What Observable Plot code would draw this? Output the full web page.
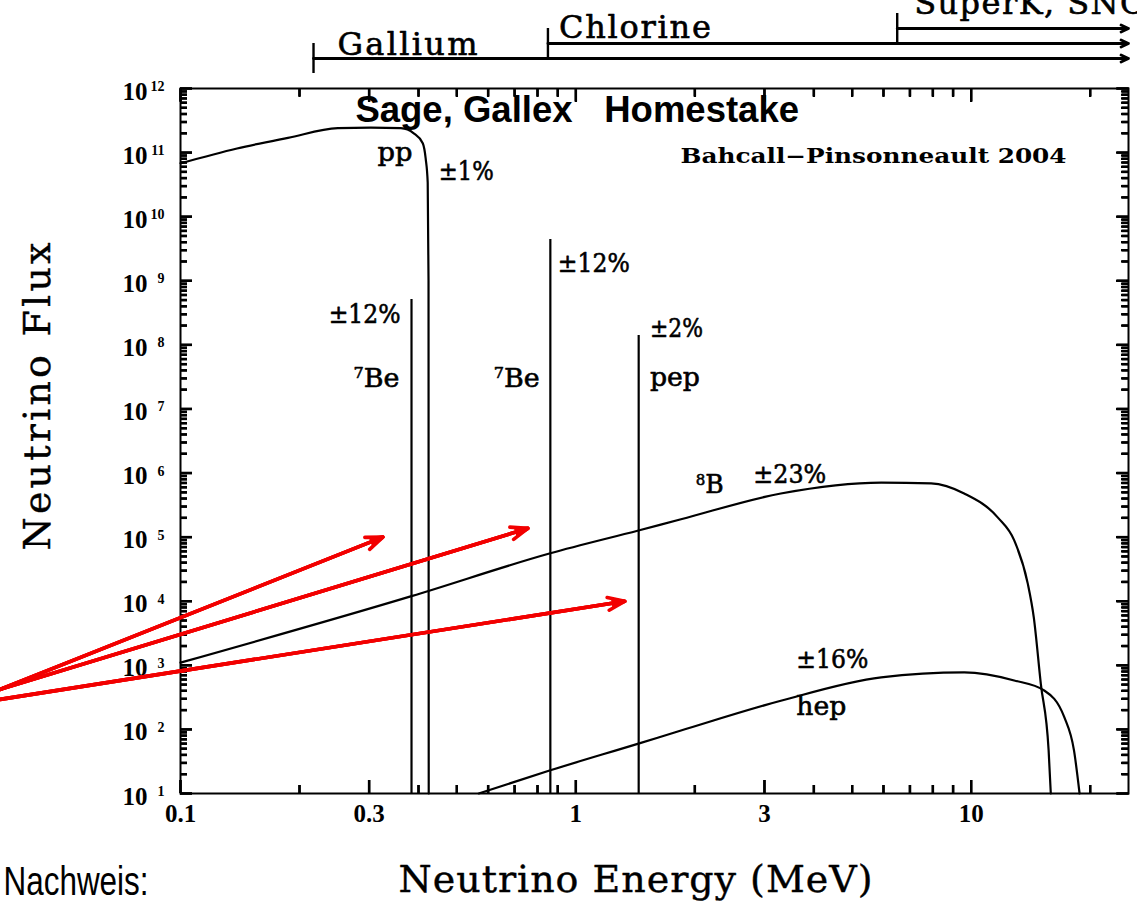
<!DOCTYPE html>
<html>
<head>
<meta charset="utf-8">
<script src="https://cdn.jsdelivr.net/npm/d3@7"></script>
<script src="https://cdn.jsdelivr.net/npm/@observablehq/plot@0.6"></script>
<style>
  html, body { margin: 0; padding: 0; background: #fff; overflow: hidden; }
  #chart svg { display: block; }
</style>
</head>
<body>
<div id="chart"></div>
<script>
// ---------- data ----------
const ppEnergy = [0.1, 0.139, 0.187, 0.25, 0.303, 0.361, 0.389, 0.41, 0.417, 0.422, 0.424, 0.4245];
const ppFlux   = [6.8e10, 1.16e11, 1.7e11, 2.4e11, 2.45e11, 2.4e11, 2.0e11, 1.4e11, 8.1e10, 3.4e10, 1e9, 10];

const b8Energy = [0.1, 0.384, 0.862, 1.44, 1.845, 3.3, 5.92, 7.92, 9.6, 11.7, 12.85, 13.9, 14.4, 15.0, 15.7, 15.9];
const b8Flux   = [1.1e3, 1.2e4, 5.6e4, 1.27e5, 1.9e5, 4.8e5, 7.1e5, 6.9e5, 4.8e5, 2.0e5, 8.9e4, 1.9e4, 5.6e3, 520, 47, 10];

const hepEnergy = [0.568, 0.862, 1.44, 1.845, 3.3, 5.92, 9.6, 12.85, 15.3, 17.2, 18.2, 18.8];
const hepFlux   = [10, 23, 60, 96, 280, 650, 775, 580, 405, 155, 47, 10];

// mono-energetic lines: 7Be (0.384), 7Be (0.862), pep (1.442)
const lineEnergy = [0.384, 0.862, 1.442];
const lineFlux   = [5.1e8, 4.4e9, 1.4e8];

// detector thresholds
const detectorName      = ["Gallium", "Chlorine", "SuperK, SNO"];
const detectorThreshold = [0.217, 0.85, 6.5];

// annotations (energy, flux of text start / baseline)
const noteText   = ["pp", "±1%", "±12%", "^7Be", "^7Be", "±12%", "±2%", "pep", "^8B", "±23%", "±16%", "hep"];
const noteEnergy = [0.315, 0.450, 0.237, 0.274, 0.620, 0.900, 1.54, 1.54, 2.01, 2.81, 3.61, 3.61];
const noteFlux   = [7.5e10, 3.7e10, 2.2e8, 2.2e7, 2.2e7, 1.35e9, 1.35e8, 2.3e7, 4.8e5, 7.1e5, 895, 165];

const sourceText   = ["Bahcall−Pinsonneault 2004"];
const sourceEnergy = [1.84];
const sourceFlux   = [6.8e10];

const experimentText   = ["Sage, Gallex", "Homestake"];
const experimentEnergy = [0.277, 1.18];
const experimentFlux   = [2.95e11, 2.95e11];

// red pointer arrows
const arrowStartEnergy = [0.035, 0.035, 0.035];
const arrowStartFlux   = [421, 421, 294];
const arrowEndEnergy   = [0.325, 0.756, 1.33];
const arrowEndFlux     = [1.0e5, 1.37e5, 1.0e4];

// tick values
const xMajor = [0.1, 0.3, 1, 3, 10];
const xMinor = [0.2, 0.4, 0.5, 0.6, 0.7, 0.8, 0.9, 2, 4, 5, 6, 7, 8, 9, 20];
const yMajor = [1e1, 1e2, 1e3, 1e4, 1e5, 1e6, 1e7, 1e8, 1e9, 1e10, 1e11, 1e12];
const yMinor = [];
for (let n = 1; n <= 11; n++) for (let k = 2; k <= 9; k++) yMinor.push(k * 10 ** n);

const xLabel = "Neutrino Energy (MeV)";
const yLabel = "Neutrino Flux";
const footLabel = "Nachweis:";

// ---------- tables ----------
const toTable = (E, F) => E.map((e, i) => ({E: e, F: F[i]}));
const ppTable = toTable(ppEnergy, ppFlux);
const b8Table = toTable(b8Energy, b8Flux);
const hepTable = toTable(hepEnergy, hepFlux);
const lineTable = toTable(lineEnergy, lineFlux);
const noteTable = noteText.map((t, i) => ({t, E: noteEnergy[i], F: noteFlux[i]}));
const sourceTable = sourceText.map((t, i) => ({t, E: sourceEnergy[i], F: sourceFlux[i]}));
const expTable = experimentText.map((t, i) => ({t, E: experimentEnergy[i], F: experimentFlux[i]}));
const arrowTable = arrowStartEnergy.map((e, i) => ({E1: e, F1: arrowStartFlux[i], E2: arrowEndEnergy[i], F2: arrowEndFlux[i]}));
const asRows = vs => vs.map(v => ({E: v}));

// ---------- layout and styles ----------
const serif = "DejaVu Serif";
const tickFont = "Liberation Serif";
const xMin = 0.1, xMax = 25, yMin = 10, yMax = 1e12;
const detectorLayout = [ // offsets above the frame (px)
  {bar: -30, tdx: 24, tdy: -34},
  {bar: -45, tdx: 11, tdy: -51},
  {bar: -60, tdx: 17, tdy: -75}
];
const textFit = {
  "Neutrino Energy (MeV)": [474, "spacing"],
  "Neutrino Flux": [308, "spacing"],
  "Gallium": [140, "spacing"],
  "Chlorine": [152, "spacing"],
  "SuperK, SNO": [232, "spacing"],
  "Nachweis:": [145, "spacingAndGlyphs"],
  "Bahcall−Pinsonneault 2004": [386, "spacingAndGlyphs"],
  "±12%": [72, "spacingAndGlyphs"],
  "±1%": [55, "spacingAndGlyphs"],
  "±2%": [53, "spacingAndGlyphs"],
  "±23%": [73, "spacingAndGlyphs"],
  "±16%": [72, "spacingAndGlyphs"],
  "pp": [35, "spacingAndGlyphs"],
  "pep": [50, "spacingAndGlyphs"],
  "hep": [50, "spacingAndGlyphs"],
  "^7Be": [46, "spacingAndGlyphs"],
  "^8B": [28, "spacingAndGlyphs"]
};
const bold = {fill: "black", stroke: "black", strokeWidth: 0.6};
const tickStroke = {stroke: "black", strokeWidth: 2.4};

// inward ticks, drawn two equivalent ways so that they coincide:
// (a) centred rules widened by negative insets and shifted inward by half their length
const tickRules = (xs, ys, lenX, lenY) => {
  const hx = lenX / 2, hy = lenY / 2;
  return [
    Plot.ruleX(asRows(xs), {x: "E", y1: yMin, y2: yMin, insetTop: -hx, insetBottom: -hx, dy: -hx, ...tickStroke}),
    Plot.ruleX(asRows(xs), {x: "E", y1: yMax, y2: yMax, insetTop: -hx, insetBottom: -hx, dy: hx, ...tickStroke}),
    Plot.ruleY(asRows(ys), {y: "E", x1: xMin, x2: xMin, insetLeft: -hy, insetRight: -hy, dx: hy, ...tickStroke}),
    Plot.ruleY(asRows(ys), {y: "E", x1: xMax, x2: xMax, insetLeft: -hy, insetRight: -hy, dx: -hy, ...tickStroke})
  ];
};
// (b) axis tick marks drawn outward, then shifted back inside by their length
const tickAxes = (xs, ys, lenX, lenY) => [
  Plot.axisX({ticks: xs, anchor: "bottom", tickSize: lenX, dy: -lenX, fill: "none", label: null, ...tickStroke}),
  Plot.axisX({ticks: xs, anchor: "top", tickSize: lenX, dy: lenX, fill: "none", label: null, ...tickStroke}),
  Plot.axisY({ticks: ys, anchor: "left", tickSize: lenY, dx: lenY, fill: "none", label: null, ...tickStroke}),
  Plot.axisY({ticks: ys, anchor: "right", tickSize: lenY, dx: -lenY, fill: "none", label: null, ...tickStroke})
];

const detectorMarks = detectorName.flatMap((name, i) => {
  const L = detectorLayout[i];
  const d = [{E: detectorThreshold[i], t: name}];
  return [
    Plot.arrow(d, {x1: "E", x2: xMax, y1: yMax, y2: yMax, dy: L.bar, stroke: "black", strokeWidth: 2.8, headLength: 4.4, headAngle: 50}),
    Plot.ruleX(d, {x: "E", y1: yMax, y2: yMax, insetTop: -15, insetBottom: -15, dy: L.bar, strokeWidth: 2.4}),
    Plot.text(d, {x: "E", y: yMax, text: "t", dx: L.tdx, dy: L.tdy, textAnchor: "start", lineAnchor: "bottom",
      fontFamily: serif, fontSize: 32, ...bold})
  ];
});

const chart = Plot.plot({
  width: 1137,
  height: 903,
  marginLeft: 180,
  marginRight: 9,
  marginTop: 88,
  marginBottom: 110,
  style: {background: "white", color: "black", overflow: "visible"},
  x: {type: "log", domain: [xMin, xMax]},
  y: {type: "log", domain: [yMin, yMax]},
  marks: [
    Plot.frame({fill: "none", stroke: "black", strokeWidth: 2}),
    // tick labels
    Plot.axisX({ticks: xMajor, anchor: "bottom", tickSize: 0, tickPadding: 11, tickFormat: d => String(d),
      fontSize: 25, fontFamily: tickFont, fontWeight: "bold", label: null}),
    Plot.axisY({ticks: yMajor, anchor: "left", tickSize: 0, tickPadding: 33, tickFormat: () => "10",
      fontSize: 25, fontFamily: tickFont, fontWeight: "bold", dy: 3, label: null}),
    Plot.axisY({ticks: yMajor, anchor: "left", tickSize: 0, tickPadding: 16, tickFormat: d => String(Math.round(Math.log10(d))),
      fontSize: 14, fontFamily: tickFont, fontWeight: "bold", dy: -2, label: null}),
    // spectra
    Plot.line(ppTable, {x: "E", y: "F", curve: "monotone-x", stroke: "black", strokeWidth: 2.2}),
    Plot.line(b8Table, {x: "E", y: "F", curve: "monotone-x", stroke: "black", strokeWidth: 2.2}),
    Plot.line(hepTable, {x: "E", y: "F", curve: "monotone-x", stroke: "black", strokeWidth: 2.2}),
    Plot.ruleX(lineTable, {x: "E", y1: yMin, y2: "F", stroke: "black", strokeWidth: 2.2}),
    // annotations
    Plot.text(noteTable, {x: "E", y: "F", text: "t", textAnchor: "start", lineAnchor: "bottom",
      fontFamily: serif, fontSize: 26, ...bold}),
    Plot.text(sourceTable, {x: "E", y: "F", text: "t", textAnchor: "start", lineAnchor: "bottom",
      fontFamily: serif, fontSize: 20, fontWeight: "bold"}),
    Plot.text(expTable, {x: "E", y: "F", text: "t", textAnchor: "start", lineAnchor: "bottom",
      fontFamily: "Liberation Sans", fontWeight: "bold", fontSize: 36.5}),
    // detector ranges above the frame
    ...detectorMarks,
    // inward ticks
    ...tickRules(xMinor, yMinor, 8, 7),
    ...tickRules(xMajor, yMajor, 13, 12),
    ...tickAxes(xMinor, yMinor, 8, 7),
    ...tickAxes(xMajor, yMajor, 13, 12),
    // axis titles and footer
    Plot.text([xLabel], {frameAnchor: "bottom", dx: -19, dy: 98, textAnchor: "middle", lineAnchor: "bottom",
      fontFamily: serif, fontSize: 38, fill: "black", stroke: "black", strokeWidth: 0.4}),
    Plot.text([yLabel], {frameAnchor: "left", dx: -143, dy: -44.5, rotate: -90, textAnchor: "middle", lineAnchor: "middle",
      fontFamily: serif, fontSize: 38, fill: "black", stroke: "black", strokeWidth: 0.4}),
    Plot.text([footLabel], {frameAnchor: "bottom-left", dx: -177, dy: 101, textAnchor: "start", lineAnchor: "bottom",
      fontFamily: "Liberation Sans", fontSize: 40}),
    // red pointer arrows
    Plot.arrow(arrowTable, {x1: "E1", y1: "F1", x2: "E2", y2: "F2", stroke: "#f20000", strokeWidth: 3.6, headLength: 7.5, headAngle: 42}),
    Plot.arrow(arrowTable, {x1: "E1", y1: "F1", x2: "E2", y2: "F2", stroke: "#f20000", strokeWidth: 3.6, headLength: 5, headAngle: 30}),
    Plot.arrow(arrowTable, {x1: "E1", y1: "F1", x2: "E2", y2: "F2", stroke: "#f20000", strokeWidth: 3.6, headLength: 2.5, headAngle: 20})
  ]
});

// ---------- text fitting and superscripts ----------
const NS = "http://www.w3.org/2000/svg";
chart.querySelectorAll("text").forEach(t => {
  const s = t.textContent;
  const fit = textFit[s];
  if (fit) {
    t.setAttribute("textLength", fit[0]);
    t.setAttribute("lengthAdjust", fit[1]);
  }
  if (s.includes("^")) {
    const parts = s.split(/(\^\d+)/).filter(p => p);
    t.textContent = "";
    let up = false;
    for (const p of parts) {
      const ts = document.createElementNS(NS, "tspan");
      if (p.startsWith("^")) {
        ts.textContent = p.slice(1);
        ts.setAttribute("font-size", "60%");
        ts.setAttribute("dy", "-0.55em");
        up = true;
      } else {
        ts.textContent = p;
        if (up) ts.setAttribute("dy", "0.33em");
        up = false;
      }
      t.appendChild(ts);
    }
  }
});

document.getElementById("chart").appendChild(chart);
</script>
</body>
</html>
